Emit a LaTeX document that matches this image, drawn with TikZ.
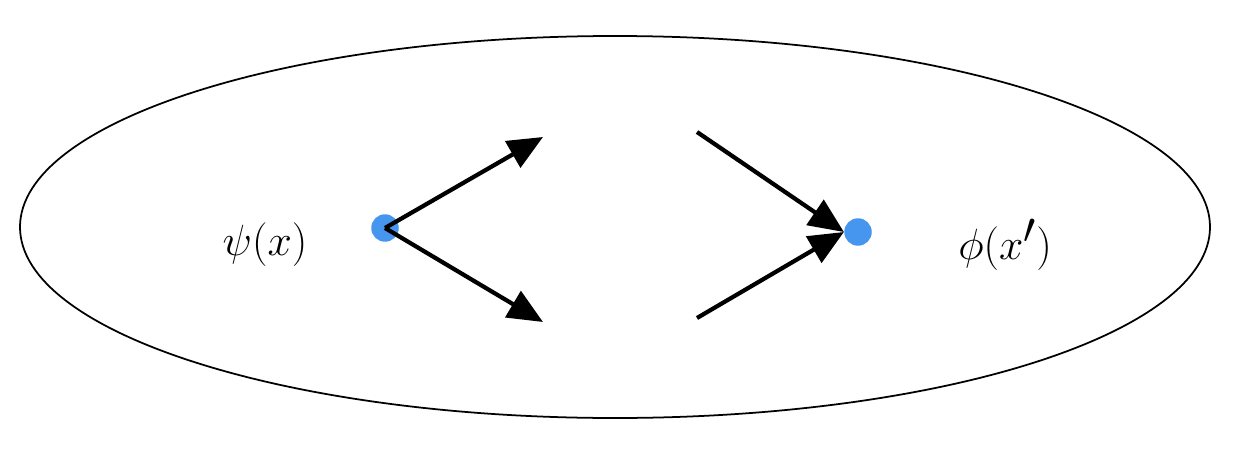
\documentclass[tikz,border=0pt]{standalone}
\usetikzlibrary{arrows.meta}
\begin{document}
\begin{tikzpicture}[x=0.02cm,y=-0.02cm,
  arr/.style={line width=2.4pt,-{Triangle[length=0.7cm,width=0.6cm]}},
  dot/.style={circle,fill=blue!45!cyan!80!white,inner sep=0pt,minimum size=0.55cm},
  lab/.style={font=\fontsize{36}{40}\selectfont}]
\useasboundingbox (0,0) rectangle (1244,453);
\draw[line width=1pt] (615,227) ellipse [x radius=595, y radius=191];
\node[dot,fill={rgb,255:red,70;green,150;blue,240}] (L) at (385,228) {};
\node[dot,fill={rgb,255:red,70;green,150;blue,240}] (R) at (858,232) {};
\coordinate (a1) at (543,137);
\coordinate (a2) at (543,322);
\coordinate (b1) at (697,132);
\coordinate (b2) at (697,318);
\draw[arr] (L.center) -- (a1);
\draw[arr] (L.center) -- (a2);
\draw[arr] (b1) -- (R.west);
\draw[arr] (b2) -- (R.west);
\node[lab] (psi) at (265,245) {$\psi(x)$};
\node[lab] (phi) at (1005,245) {$\phi(x')$};
\end{tikzpicture}
\end{document}
